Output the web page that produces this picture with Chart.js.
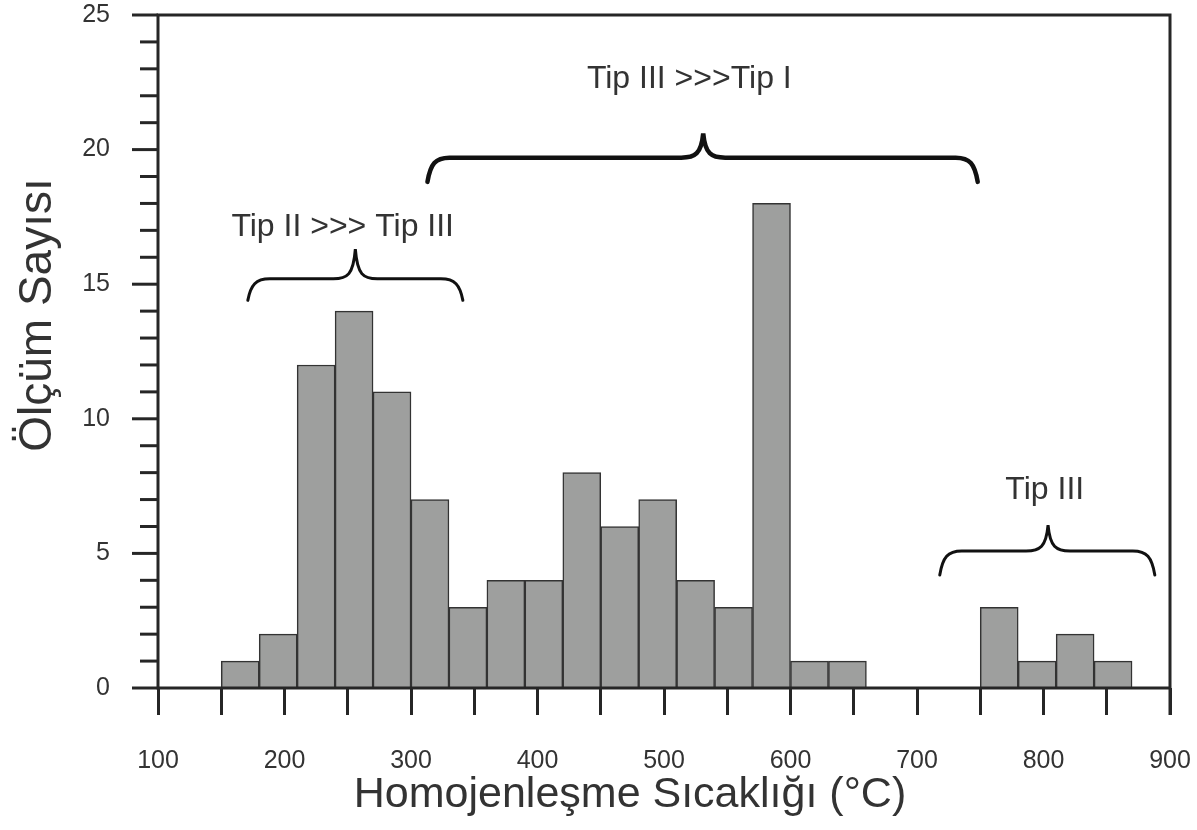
<!DOCTYPE html>
<html>
<head>
<meta charset="utf-8">
<script src="https://cdn.jsdelivr.net/npm/chart.js@4/dist/chart.umd.min.js"></script>
<style>
  body { margin: 0; background: #fff; }
  #wrap { width: 1197px; height: 830px; }
</style>
</head>
<body>
<div id="wrap"><canvas id="chart" width="1197" height="830"></canvas></div>
<script>
// histogram bins (lower edge, °C) and counts
const binStarts = [150, 180, 210, 240, 270, 300, 330, 360, 390, 420, 450, 480, 510, 540, 570, 600, 630, 750, 780, 810, 840]
const counts    = [1,   2,   12,  14,  11,  7,   3,   4,   4,   8,   6,   7,   4,   3,   18,  1,   1,   3,   1,   2,   1]
const binWidth = 30

const xTitle = 'Homojenleşme Sıcaklığı (°C)'
const yTitle = 'Ölçüm Sayısı'

// bracket annotations, in data units
const braces = [
  { label: 'Tip II >>> Tip III', x1: 171, x2: 341, xm: 256, yEnd: 14.4, yFlat: 15.2, yTip: 16.3, tx: 246, ty: 17.1, w: 3 },
  { label: 'Tip III >>>Tip I', x1: 313, x2: 748, xm: 531, yEnd: 18.8, yFlat: 19.7, yTip: 20.6, tx: 520, ty: 22.6, w: 4.5 },
  { label: 'Tip III', x1: 718, x2: 888, xm: 803.6, yEnd: 4.2, yFlat: 5.09, yTip: 6.05, tx: 801, ty: 7.36, w: 3 }
]

const axisColor = '#262626'
const textColor = '#333'
const font = '"Liberation Sans", Arial, sans-serif'

function drawBrace(ctx, b, xs, ys) {
  const x1 = xs.getPixelForValue(b.x1), x2 = xs.getPixelForValue(b.x2), xm = xs.getPixelForValue(b.xm)
  const yE = ys.getPixelForValue(b.yEnd), yF = ys.getPixelForValue(b.yFlat), yT = ys.getPixelForValue(b.yTip)
  const r = 22
  ctx.beginPath()
  ctx.moveTo(x1, yE)
  ctx.bezierCurveTo(x1 + 3, yF + 6, x1 + 8, yF, x1 + r, yF)
  ctx.lineTo(xm - r, yF)
  ctx.bezierCurveTo(xm - 8, yF, xm - 2, yF - 4, xm, yT)
  ctx.bezierCurveTo(xm + 2, yF - 4, xm + 8, yF, xm + r, yF)
  ctx.lineTo(x2 - r, yF)
  ctx.bezierCurveTo(x2 - 8, yF, x2 - 3, yF + 6, x2, yE)
  ctx.lineWidth = b.w
  ctx.strokeStyle = '#111'
  ctx.lineCap = 'round'
  ctx.stroke()

  ctx.fillStyle = textColor
  ctx.font = '32px ' + font
  ctx.textAlign = 'center'
  ctx.textBaseline = 'middle'
  ctx.fillText(b.label, xs.getPixelForValue(b.tx), ys.getPixelForValue(b.ty))
}

const framePlugin = {
  id: 'frame',
  afterDatasetsDraw(chart) {
    const ctx = chart.ctx
    const { left, right, top, bottom } = chart.chartArea
    const xs = chart.scales.x, ys = chart.scales.y
    ctx.save()
    ctx.strokeStyle = axisColor
    ctx.lineWidth = 3
    ctx.lineCap = 'butt'

    // y ticks: long at multiples of 5, short otherwise
    for (let v = ys.min; v <= ys.max; v++) {
      const y = ys.getPixelForValue(v)
      const len = v % 5 === 0 ? 26 : 18
      ctx.beginPath()
      ctx.moveTo(left - len, y)
      ctx.lineTo(left, y)
      ctx.stroke()
    }

    // box: left, bottom, top, right (right runs down like the last tick)
    ctx.beginPath()
    ctx.moveTo(left, top - 1.5)
    ctx.lineTo(left, bottom + 1.5)
    ctx.moveTo(left, bottom)
    ctx.lineTo(right + 1.5, bottom)
    ctx.moveTo(left, top)
    ctx.lineTo(right + 1.5, top)
    ctx.moveTo(right, top - 1.5)
    ctx.lineTo(right, bottom + 27)
    ctx.stroke()

    braces.forEach(b => drawBrace(ctx, b, xs, ys))

    // axis titles
    ctx.fillStyle = textColor
    ctx.textAlign = 'center'
    ctx.textBaseline = 'middle'
    ctx.font = '43px ' + font
    ctx.fillText(xTitle, 630, 795)
    ctx.translate(38, 315)
    ctx.rotate(-Math.PI / 2)
    ctx.font = '46px ' + font
    ctx.fillText(yTitle, 0, 0)
    ctx.restore()
  }
}

const points = binStarts.map((s, i) => ({ x: s + binWidth / 2, y: counts[i] }))

new Chart(document.getElementById('chart'), {
  type: 'bar',
  data: {
    datasets: [{
      data: points,
      backgroundColor: '#9e9f9e',
      borderColor: '#333',
      borderWidth: 1.5,
      barPercentage: 1,
      categoryPercentage: 1
    }]
  },
  options: {
    responsive: false,
    animation: false,
    layout: { padding: { top: 15, right: 27, left: 0, bottom: 0 } },
    plugins: { legend: { display: false }, tooltip: { enabled: false } },
    scales: {
      x: {
        type: 'linear',
        min: 100,
        max: 900,
        offset: false,
        afterFit: s => { s.height = 142; s.paddingLeft = 0; s.paddingRight = 0 },
        grid: { offset: false, drawOnChartArea: false, drawTicks: true, tickLength: 27, tickWidth: 3, tickColor: axisColor },
        border: { display: false },
        ticks: {
          stepSize: 50,
          autoSkip: false,
          maxRotation: 0,
          padding: 31,
          color: textColor,
          font: { size: 25, family: font },
          callback: v => v % 100 === 0 ? v : ''
        }
      },
      y: {
        min: 0,
        max: 25,
        afterFit: s => { s.width = 158; s.paddingTop = 0; s.paddingBottom = 0 },
        grid: { drawOnChartArea: false, drawTicks: false },
        border: { display: false },
        ticks: {
          stepSize: 1,
          autoSkip: false,
          padding: 48,
          color: textColor,
          font: { size: 25, family: font },
          callback: v => v % 5 === 0 ? v : ''
        }
      }
    }
  },
  plugins: [framePlugin]
})
</script>
</body>
</html>
